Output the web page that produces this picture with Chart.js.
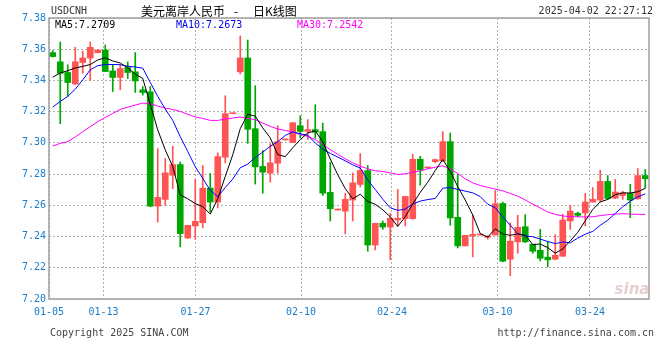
<!DOCTYPE html>
<html>
<head>
<meta charset="utf-8">
<title>USDCNH 日K线图</title>
<script src="https://cdn.jsdelivr.net/npm/chart.js@4.4.1/dist/chart.umd.min.js"></script>
<style>
  html, body { margin: 0; padding: 0; background: #fff; }
  #wrap { width: 660px; height: 360px; }
</style>
</head>
<body>
<div id="wrap"><canvas id="kline" width="660" height="360"></canvas></div>
<script>
// daily candles (oldest first)
const opens = [
  7.3578, 7.3519, 7.3451, 7.3378, 7.3515, 7.3544, 7.3578, 7.3595, 7.3461, 7.3419,
  7.3483, 7.3455, 7.3340, 7.3327, 7.2595, 7.2638, 7.2793, 7.2861, 7.2391, 7.2468,
  7.2489, 7.2710, 7.2621, 7.2908, 7.3187, 7.3455, 7.3544, 7.3091, 7.2849, 7.2806,
  7.2870, 7.3019, 7.3002, 7.3110, 7.3074, 7.3085, 7.3072, 7.2683, 7.2570, 7.2563,
  7.2634, 7.2734, 7.2823, 7.2346, 7.2485, 7.2461, 7.2506, 7.2515, 7.2515, 7.2895,
  7.2840, 7.2880, 7.2883, 7.3008, 7.2523, 7.2340, 7.2404, 7.2410, 7.2395, 7.2410,
  7.2612, 7.2255, 7.2366, 7.2463, 7.2351, 7.2312, 7.2268, 7.2255, 7.2274, 7.2500,
  7.2549, 7.2551, 7.2621, 7.2634, 7.2753, 7.2646, 7.2663, 7.2676, 7.2642, 7.2791
];
const closes = [
  7.3553, 7.3446, 7.3387, 7.3519, 7.3544, 7.3612, 7.3595, 7.3457, 7.3419, 7.3476,
  7.3451, 7.3397, 7.3323, 7.2595, 7.2651, 7.2808, 7.2861, 7.2419, 7.2472, 7.2497,
  7.2710, 7.2621, 7.2912, 7.3187, 7.3191, 7.3544, 7.3087, 7.2846, 7.2812, 7.2872,
  7.3008, 7.3023, 7.3129, 7.3074, 7.3085, 7.3068, 7.2678, 7.2578, 7.2574, 7.2638,
  7.2744, 7.2823, 7.2346, 7.2485, 7.2461, 7.2517, 7.2517, 7.2657, 7.2895, 7.2827,
  7.2844, 7.2893, 7.3008, 7.2519, 7.2340, 7.2408, 7.2414, 7.2414, 7.2404, 7.2610,
  7.2242, 7.2370, 7.2459, 7.2366, 7.2306, 7.2261, 7.2251, 7.2280, 7.2506, 7.2563,
  7.2536, 7.2621, 7.2638, 7.2753, 7.2644, 7.2685, 7.2680, 7.2634, 7.2791, 7.2770
];
const highs = [
  7.3591, 7.3646, 7.3500, 7.3612, 7.3587, 7.3646, 7.3597, 7.3627, 7.3500, 7.3500,
  7.3519, 7.3578, 7.3361, 7.3361, 7.2963, 7.2900, 7.2978, 7.2878, 7.2472, 7.2766,
  7.2855, 7.2804, 7.2936, 7.3302, 7.3192, 7.3685, 7.3659, 7.3366, 7.2951, 7.2995,
  7.3110, 7.3024, 7.3129, 7.3174, 7.3149, 7.3244, 7.3127, 7.2876, 7.2575, 7.2676,
  7.2808, 7.2932, 7.2855, 7.2485, 7.2500, 7.2548, 7.2702, 7.2657, 7.2927, 7.2914,
  7.2845, 7.2897, 7.3072, 7.3063, 7.2798, 7.2408, 7.2536, 7.2415, 7.2404, 7.2695,
  7.2621, 7.2489, 7.2536, 7.2540, 7.2351, 7.2446, 7.2370, 7.2412, 7.2544, 7.2600,
  7.2557, 7.2676, 7.2714, 7.2825, 7.2791, 7.2766, 7.2691, 7.2734, 7.2836, 7.2830
];
const lows = [
  7.3550, 7.3123, 7.3298, 7.3372, 7.3446, 7.3400, 7.3576, 7.3457, 7.3329, 7.3340,
  7.3412, 7.3323, 7.3306, 7.2591, 7.2493, 7.2600, 7.2706, 7.2334, 7.2387, 7.2383,
  7.2455, 7.2557, 7.2583, 7.2872, 7.3186, 7.3442, 7.2997, 7.2736, 7.2678, 7.2749,
  7.2806, 7.3018, 7.3002, 7.3032, 7.3021, 7.3029, 7.2663, 7.2500, 7.2569, 7.2417,
  7.2500, 7.2717, 7.2306, 7.2314, 7.2446, 7.2251, 7.2468, 7.2468, 7.2510, 7.2729,
  7.2839, 7.2872, 7.2880, 7.2472, 7.2327, 7.2340, 7.2270, 7.2409, 7.2383, 7.2410,
  7.2238, 7.2149, 7.2293, 7.2361, 7.2293, 7.2244, 7.2206, 7.2251, 7.2274, 7.2446,
  7.2527, 7.2468, 7.2621, 7.2621, 7.2638, 7.2642, 7.2638, 7.2521, 7.2638, 7.2710
];

// moving averages as drawn
const ma5 = [
  7.3421, 7.3448, 7.3462, 7.3480, 7.3490, 7.3502, 7.3531, 7.3545, 7.3525, 7.3512,
  7.3480, 7.3440, 7.3413, 7.3248, 7.3083, 7.2955, 7.2848, 7.2667, 7.2642, 7.2611,
  7.2592, 7.2544, 7.2642, 7.2785, 7.2924, 7.3091, 7.3184, 7.3171, 7.3096, 7.3032,
  7.2925, 7.2912, 7.2969, 7.3021, 7.3064, 7.3076, 7.3007, 7.2897, 7.2796, 7.2707,
  7.2642, 7.2671, 7.2625, 7.2607, 7.2572, 7.2526, 7.2465, 7.2527, 7.2609, 7.2683,
  7.2748, 7.2823, 7.2893, 7.2818, 7.2720, 7.2634, 7.2538, 7.2419, 7.2396, 7.2450,
  7.2416, 7.2408, 7.2417, 7.2409, 7.2349, 7.2352, 7.2329, 7.2293, 7.2321, 7.2372,
  7.2427, 7.2501, 7.2573, 7.2622, 7.2638, 7.2668, 7.2680, 7.2679, 7.2687, 7.2709
];
const ma10 = [
  7.3229, 7.3266, 7.3298, 7.3344, 7.3404, 7.3468, 7.3495, 7.3502, 7.3502, 7.3501,
  7.3491, 7.3486, 7.3479, 7.3387, 7.3298, 7.3217, 7.3144, 7.3040, 7.2945, 7.2847,
  7.2773, 7.2696, 7.2655, 7.2714, 7.2768, 7.2841, 7.2864, 7.2907, 7.2941, 7.2978,
  7.3008, 7.3048, 7.3070, 7.3059, 7.3048, 7.3000, 7.2960, 7.2933, 7.2909, 7.2885,
  7.2859, 7.2839, 7.2761, 7.2702, 7.2639, 7.2584, 7.2568, 7.2576, 7.2608, 7.2627,
  7.2637, 7.2644, 7.2710, 7.2714, 7.2702, 7.2691, 7.2680, 7.2656, 7.2607, 7.2585,
  7.2525, 7.2473, 7.2418, 7.2403, 7.2399, 7.2384, 7.2368, 7.2355, 7.2365, 7.2360,
  7.2390, 7.2415, 7.2433, 7.2472, 7.2505, 7.2548, 7.2591, 7.2626, 7.2655, 7.2673
];
const ma30 = [
  7.2980, 7.2997, 7.3008, 7.3038, 7.3072, 7.3104, 7.3136, 7.3163, 7.3189, 7.3214,
  7.3229, 7.3242, 7.3255, 7.3251, 7.3236, 7.3223, 7.3214, 7.3202, 7.3183, 7.3166,
  7.3157, 7.3144, 7.3144, 7.3153, 7.3159, 7.3166, 7.3157, 7.3149, 7.3127, 7.3106,
  7.3089, 7.3080, 7.3070, 7.3053, 7.3042, 7.3021, 7.2989, 7.2957, 7.2927, 7.2898,
  7.2872, 7.2851, 7.2834, 7.2821, 7.2817, 7.2808, 7.2798, 7.2802, 7.2812, 7.2821,
  7.2834, 7.2844, 7.2853, 7.2834, 7.2804, 7.2770, 7.2744, 7.2727, 7.2715, 7.2704,
  7.2693, 7.2676, 7.2659, 7.2634, 7.2608, 7.2583, 7.2557, 7.2542, 7.2532, 7.2527,
  7.2527, 7.2525, 7.2527, 7.2534, 7.2540, 7.2544, 7.2546, 7.2544, 7.2542, 7.2542
];

// axis ticks (x positions are in bar index units)
const tickPos = [-0.5, 6.77, 19.03, 33.1, 45.23, 59.3, 71.63];
const tickLabels = ['01-05', '01-13', '01-27', '02-10', '02-24', '03-10', '03-24'];
const yTicks = [7.20, 7.22, 7.24, 7.26, 7.28, 7.30, 7.32, 7.34, 7.36, 7.38];

const UP = '#ff5454';
const DOWN = '#00a600';
const MONO = '"DejaVu Sans Mono", "Liberation Mono", monospace';

const candleColors = closes.map((c, i) => (c >= opens[i] ? UP : DOWN));
const wickData = highs.map((h, i) => ({ x: i, y: [lows[i], h] }));
const bodyData = opens.map((o, i) => ({ x: i, y: [Math.min(o, closes[i]), Math.max(o, closes[i])] }));
const toPoints = arr => arr.map((v, i) => ({ x: i, y: v }));

// texts and frame around the plot
const decorations = {
  id: 'decorations',
  afterDraw(chart) {
    const { ctx, chartArea: a } = chart;
    ctx.save();

    ctx.strokeStyle = '#a0a0a0';
    ctx.lineWidth = 1.5;
    ctx.strokeRect(a.left, a.top, a.right - a.left, a.bottom - a.top);

    ctx.textBaseline = 'middle';
    ctx.font = '10px ' + MONO;
    ctx.fillStyle = '#333';
    ctx.textAlign = 'left';
    ctx.fillText('USDCNH', 51, 11);
    ctx.textAlign = 'right';
    ctx.fillText('2025-04-02 22:27:12', 653, 11);

    ctx.font = '12px "Noto Sans CJK SC", sans-serif';
    ctx.fillStyle = '#000';
    ctx.textAlign = 'left';
    ctx.fillText('美元离岸人民币', 141, 11);
    ctx.fillText('-', 234, 11);
    ctx.fillText('日K线图', 253, 11);

    ctx.font = '10px ' + MONO;
    ctx.fillStyle = '#000';
    ctx.fillText('MA5:' + ma5[ma5.length - 1].toFixed(4), 55, 25);
    ctx.fillStyle = '#0000ee';
    ctx.fillText('MA10:' + ma10[ma10.length - 1].toFixed(4), 176, 25);
    ctx.fillStyle = '#ff00ff';
    ctx.fillText('MA30:' + ma30[ma30.length - 1].toFixed(4), 297, 25);

    ctx.fillStyle = '#444';
    ctx.fillText('Copyright 2025 SINA.COM', 50, 333);
    ctx.textAlign = 'right';
    ctx.fillText('http://finance.sina.com.cn', 654, 333);

    // faint sina watermark
    ctx.font = 'italic bold 15px "DejaVu Sans", sans-serif';
    ctx.fillStyle = 'rgba(215, 175, 175, 0.6)';
    ctx.textAlign = 'center';
    ctx.fillText('sina', 632, 290);
    ctx.restore();
  }
};

new Chart(document.getElementById('kline'), {
  data: {
    datasets: [
      { type: 'line', label: 'MA5', data: toPoints(ma5), borderColor: '#000', borderWidth: 1, pointRadius: 0, tension: 0, order: 0 },
      { type: 'line', label: 'MA10', data: toPoints(ma10), borderColor: '#0000ff', borderWidth: 1, pointRadius: 0, tension: 0, order: 0 },
      { type: 'line', label: 'MA30', data: toPoints(ma30), borderColor: '#ff00ff', borderWidth: 1, pointRadius: 0, tension: 0, order: 0 },
      { type: 'bar', label: 'body', data: bodyData, backgroundColor: candleColors, barThickness: 6, minBarLength: 1, grouped: false, order: 1 },
      { type: 'bar', label: 'wick', data: wickData, backgroundColor: candleColors, barThickness: 1, grouped: false, order: 2 }
    ]
  },
  options: {
    responsive: false,
    animation: false,
    layout: { padding: { left: 0, right: 11, top: 18, bottom: 0 } },
    plugins: { legend: { display: false }, tooltip: { enabled: false } },
    scales: {
      x: {
        type: 'linear',
        offset: false,
        min: -0.5,
        max: 79.5,
        afterBuildTicks: scale => { scale.ticks = tickPos.map(v => ({ value: v })); },
        afterFit: scale => { scale.height = 61; },
        ticks: {
          autoSkip: false,
          maxRotation: 0,
          padding: 7,
          color: '#1a7dcc',
          font: { family: MONO, size: 10 },
          callback: (v, i) => tickLabels[i]
        },
        grid: { color: '#b0b0b0', drawTicks: false, offset: false },
        border: { display: false, dash: [2, 2] }
      },
      y: {
        type: 'linear',
        min: 7.20,
        max: 7.38,
        afterBuildTicks: scale => { scale.ticks = yTicks.map(v => ({ value: v })); },
        afterFit: scale => { scale.width = 49; },
        ticks: {
          padding: 3,
          color: '#1a7dcc',
          font: { family: MONO, size: 10 },
          callback: v => v.toFixed(2)
        },
        grid: { color: '#b0b0b0', drawTicks: false },
        border: { display: false, dash: [2, 2] }
      }
    }
  },
  plugins: [decorations]
});
</script>
</body>
</html>
